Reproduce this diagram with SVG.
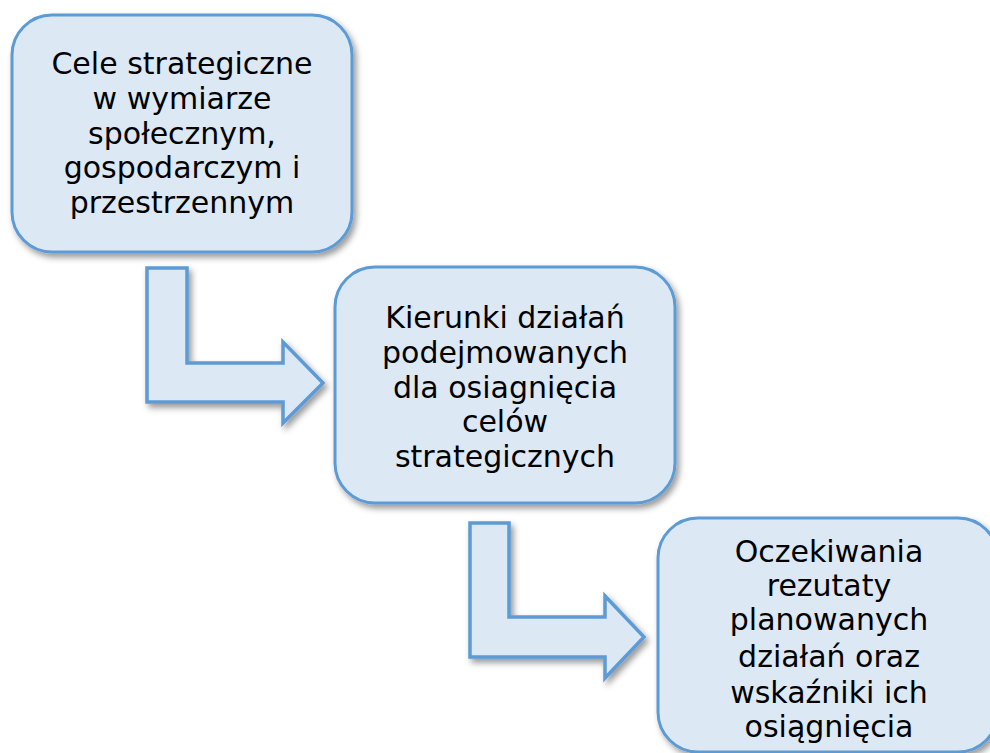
<svg xmlns="http://www.w3.org/2000/svg" width="990" height="753" viewBox="0 0 990 753">
<defs>
<filter id="sh" x="-10%" y="-10%" width="130%" height="130%">
<feDropShadow dx="3" dy="4" stdDeviation="3" flood-color="#000" flood-opacity="0.4"/>
</filter>
<style>
.box{fill:#dde8f5;stroke:#5b9bd5;stroke-width:3;filter:url(#sh)}
.arr{fill:#dde8f5;stroke:#5b9bd5;stroke-width:3.5;stroke-linejoin:miter;filter:url(#sh)}
.t{font-family:"DejaVu Sans","Liberation Sans",sans-serif;font-size:30px;fill:#000;text-anchor:middle}
</style>
</defs>
<rect width="990" height="753" fill="#fff"/>
<g id="connectors">
<polygon class="arr" points="147,268 187,268 187,363 283,363 283,342 323,383 283,423 283,402 147,402"/>
<polygon class="arr" points="470,523 509,523 509,617 605,617 605,596 644,637 605,678 605,657 470,657"/>
</g>
<g id="node1">
<rect class="box" x="12" y="15" width="340" height="237" rx="40"/>
<text class="t" x="182" y="74">Cele strategiczne</text>
<text class="t" x="182" y="109">w wymiarze</text>
<text class="t" x="182" y="144">społecznym,</text>
<text class="t" x="182" y="178">gospodarczym i</text>
<text class="t" x="182" y="213">przestrzennym</text>
</g>
<g id="node2">
<rect class="box" x="335" y="267" width="340" height="236" rx="40"/>
<text class="t" x="505" y="328">Kierunki działań</text>
<text class="t" x="505" y="363">podejmowanych</text>
<text class="t" x="505" y="398">dla osiagnięcia</text>
<text class="t" x="505" y="432">celów</text>
<text class="t" x="505" y="467">strategicznych</text>
</g>
<g id="node3">
<rect class="box" x="658" y="518" width="340" height="234" rx="40"/>
<text class="t" x="829" y="562">Oczekiwania</text>
<text class="t" x="829" y="596">rezutaty</text>
<text class="t" x="829" y="630">planowanych</text>
<text class="t" x="829" y="667">działań oraz</text>
<text class="t" x="829" y="703">wskaźniki ich</text>
<text class="t" x="829" y="737">osiągnięcia</text>
</g>
</svg>
